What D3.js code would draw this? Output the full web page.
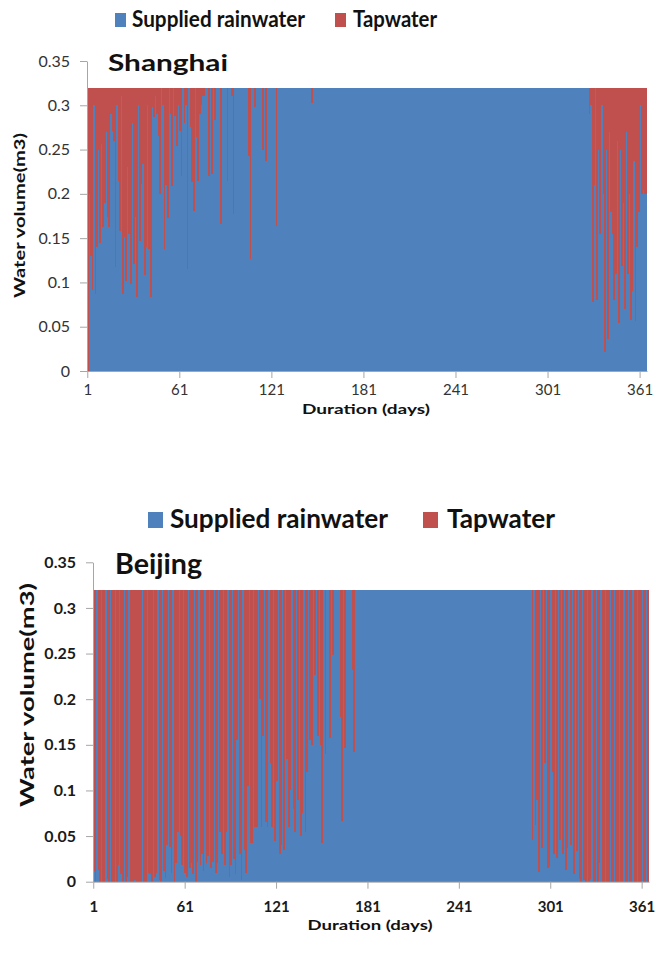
<!DOCTYPE html>
<html><head><meta charset="utf-8">
<script src="https://cdn.jsdelivr.net/npm/d3@7"></script>
<style>body{margin:0;background:#fff}svg{display:block}text{font-family:Lato,"Open Sans",sans-serif}</style>
</head><body><svg id="c" width="656" height="953"></svg>
<script>
// ---------- data ----------
const seriesNames = ["Supplied rainwater", "Tapwater"];
const seriesColors = ["#4F81BD", "#C0504D"];
const yTicks = [0, 0.05, 0.1, 0.15, 0.2, 0.25, 0.3, 0.35];
const yTickLabels = ["0", "0.05", "0.1", "0.15", "0.2", "0.25", "0.3", "0.35"];
const xTickDays = [1, 61, 121, 181, 241, 301, 361];
const xTickLabels = ["1", "61", "121", "181", "241", "301", "361"];
const cityNames = ["Shanghai", "Beijing"];
const xTitle = "Duration (days)";
const yTitle = "Water volume(m3)";

const shanghaiRain = [
0,0.2,0.13,0.092,0.3,0.087,0.14,0.25,0.145,0.256,
0.163,0.19,0.27,0.174,0.163,0.29,0.271,0.26,0.117,0.3,
0.215,0.158,0.31,0.087,0.151,0.102,0.23,0.155,0.098,0.28,
0.121,0.174,0.083,0.3,0.147,0.211,0.234,0.108,0.14,0.3,
0.138,0.083,0.298,0.287,0.31,0.29,0.265,0.2,0.32,0.3,
0.138,0.21,0.173,0.32,0.29,0.209,0.32,0.288,0.254,0.3,
0.271,0.22,0.32,0.28,0.3,0.115,0.32,0.276,0.213,0.181,
0.32,0.264,0.215,0.29,0.3,0.31,0.31,0.32,0.32,0.22,
0.32,0.222,0.32,0.283,0.32,0.32,0.32,0.166,0.32,0.32,
0.32,0.215,0.32,0.32,0.31,0.177,0.32,0.32,0.32,0.32,
0.32,0.32,0.32,0.32,0.32,0.243,0.126,0.32,0.32,0.298,
0.32,0.32,0.32,0.32,0.249,0.32,0.237,0.32,0.32,0.32,
0.32,0.32,0.32,0.164,0.32,0.32,0.32,0.32,0.32,0.32,
0.32,0.32,0.32,0.32,0.32,0.32,0.32,0.32,0.32,0.32,
0.32,0.32,0.32,0.32,0.32,0.32,0.303,0.32,0.32,0.32,
0.32,0.32,0.32,0.32,0.32,0.32,0.32,0.32,0.32,0.32,
0.32,0.32,0.32,0.32,0.32,0.32,0.32,0.32,0.32,0.32,
0.32,0.32,0.32,0.32,0.32,0.32,0.32,0.32,0.32,0.32,
0.32,0.32,0.32,0.32,0.32,0.32,0.32,0.32,0.32,0.32,
0.32,0.32,0.32,0.32,0.32,0.32,0.32,0.32,0.32,0.32,
0.32,0.32,0.32,0.32,0.32,0.32,0.32,0.32,0.32,0.32,
0.32,0.32,0.32,0.32,0.32,0.32,0.32,0.32,0.32,0.32,
0.32,0.32,0.32,0.32,0.32,0.32,0.32,0.32,0.32,0.32,
0.32,0.32,0.32,0.32,0.32,0.32,0.32,0.32,0.32,0.32,
0.32,0.32,0.32,0.32,0.32,0.32,0.32,0.32,0.32,0.32,
0.32,0.32,0.32,0.32,0.32,0.32,0.32,0.32,0.32,0.32,
0.32,0.32,0.32,0.32,0.32,0.32,0.32,0.32,0.32,0.32,
0.32,0.32,0.32,0.32,0.32,0.32,0.32,0.32,0.32,0.32,
0.32,0.32,0.32,0.32,0.32,0.32,0.32,0.32,0.32,0.32,
0.32,0.32,0.32,0.32,0.32,0.32,0.32,0.32,0.32,0.32,
0.32,0.32,0.32,0.32,0.32,0.32,0.32,0.32,0.32,0.32,
0.32,0.32,0.32,0.32,0.32,0.32,0.32,0.32,0.32,0.32,
0.32,0.32,0.32,0.32,0.32,0.32,0.32,0.29,0.3,0.078,
0.21,0.32,0.08,0.25,0.155,0.3,0.2,0.021,0.25,0.036,
0.27,0.18,0.155,0.08,0.11,0.26,0.054,0.25,0.119,0.19,
0.07,0.27,0.11,0.2,0.058,0.09,0.237,0.057,0.14,0.18,
0.3,0.2,0.204,0.2,0.2];

const shanghaiTap = [
0.32,0.12,0.19,0.228,0.02,0.233,0.18,0.07,0.175,0.064,
0.157,0.13,0.05,0.146,0.157,0.03,0.049,0.06,0.203,0.02,
0.105,0.162,0.01,0.233,0.169,0.218,0.09,0.165,0.222,0.04,
0.199,0.146,0.237,0.02,0.173,0.109,0.086,0.212,0.18,0.02,
0.182,0.237,0.022,0.033,0.01,0.03,0.055,0.12,0,0.02,
0.182,0.11,0.147,0,0.03,0.111,0,0.032,0.066,0.02,
0.049,0.1,0,0.04,0.02,0.205,0,0.044,0.107,0.139,
0,0.056,0.105,0.03,0.02,0.01,0.01,0,0,0.1,
0,0.098,0,0.037,0,0,0,0.154,0,0,
0,0.105,0,0,0.01,0.143,0,0,0,0,
0,0,0,0,0,0.077,0.194,0,0,0.022,
0,0,0,0,0.071,0,0.083,0,0,0,
0,0,0,0.156,0,0,0,0,0,0,
0,0,0,0,0,0,0,0,0,0,
0,0,0,0,0,0,0.017,0,0,0,
0,0,0,0,0,0,0,0,0,0,
0,0,0,0,0,0,0,0,0,0,
0,0,0,0,0,0,0,0,0,0,
0,0,0,0,0,0,0,0,0,0,
0,0,0,0,0,0,0,0,0,0,
0,0,0,0,0,0,0,0,0,0,
0,0,0,0,0,0,0,0,0,0,
0,0,0,0,0,0,0,0,0,0,
0,0,0,0,0,0,0,0,0,0,
0,0,0,0,0,0,0,0,0,0,
0,0,0,0,0,0,0,0,0,0,
0,0,0,0,0,0,0,0,0,0,
0,0,0,0,0,0,0,0,0,0,
0,0,0,0,0,0,0,0,0,0,
0,0,0,0,0,0,0,0,0,0,
0,0,0,0,0,0,0,0,0,0,
0,0,0,0,0,0,0,0,0,0,
0,0,0,0,0,0,0,0.03,0.02,0.242,
0.11,0,0.24,0.07,0.165,0.02,0.12,0.299,0.07,0.284,
0.05,0.14,0.165,0.24,0.21,0.06,0.266,0.07,0.201,0.13,
0.25,0.05,0.21,0.12,0.262,0.23,0.083,0.263,0.18,0.14,
0.02,0.12,0.116,0.12,0.12];

const beijingRain = [
0.012,0,0.32,0.013,0,0.32,0,0,0.32,0.003,
0,0.32,0,0,0.32,0,0.018,0.32,0.008,0,
0.32,0,0.005,0.32,0,0,0,0.002,0,0,
0,0,0.32,0,0,0.32,0.01,0.008,0,0.32,
0.005,0.01,0.32,0.002,0,0.32,0.012,0.004,0.04,0.32,
0.038,0.01,0.32,0,0.02,0.055,0.32,0.05,0.018,0.32,
0.01,0.005,0.32,0.015,0.02,0.008,0.32,0,0.022,0.32,
0.018,0.03,0.012,0.32,0.02,0.028,0.32,0.015,0.022,0.32,
0.01,0.02,0.32,0.055,0.03,0.32,0.018,0.055,0.32,0.005,
0.018,0.32,0.025,0.008,0.155,0.32,0.03,0.002,0.32,0.035,
0.01,0.105,0.32,0.042,0.042,0.32,0.06,0.06,0.32,0.2,
0.06,0.16,0.32,0.065,0.06,0.32,0.13,0.06,0.32,0.045,
0.11,0.32,0.03,0.04,0.32,0.035,0.32,0.135,0.06,0.1,
0.32,0.08,0.055,0.32,0.09,0.32,0.05,0.075,0.32,0.055,
0.12,0.32,0.155,0.15,0.32,0.226,0.32,0.16,0.32,0.15,
0.042,0.32,0.14,0.32,0.32,0.157,0.32,0.248,0.32,0.32,
0.32,0.32,0.18,0.067,0.32,0.146,0.32,0.32,0.32,0.32,
0.232,0.142,0.32,0.32,0.32,0.32,0.32,0.32,0.32,0.32,
0.32,0.32,0.32,0.32,0.32,0.32,0.32,0.32,0.32,0.32,
0.32,0.32,0.32,0.32,0.32,0.32,0.32,0.32,0.32,0.32,
0.32,0.32,0.32,0.32,0.32,0.32,0.32,0.32,0.32,0.32,
0.32,0.32,0.32,0.32,0.32,0.32,0.32,0.32,0.32,0.32,
0.32,0.32,0.32,0.32,0.32,0.32,0.32,0.32,0.32,0.32,
0.32,0.32,0.32,0.32,0.32,0.32,0.32,0.32,0.32,0.32,
0.32,0.32,0.32,0.32,0.32,0.32,0.32,0.32,0.32,0.32,
0.32,0.32,0.32,0.32,0.32,0.32,0.32,0.32,0.32,0.32,
0.32,0.32,0.32,0.32,0.32,0.32,0.32,0.32,0.32,0.32,
0.32,0.32,0.32,0.32,0.32,0.32,0.32,0.32,0.32,0.32,
0.32,0.32,0.32,0.32,0.32,0.32,0.32,0.32,0.046,0.32,
0.062,0.09,0.011,0.32,0.037,0.32,0.13,0.32,0.015,0.016,
0.32,0.12,0.03,0.32,0.026,0.32,0.046,0.32,0.03,0.32,
0.013,0.037,0.32,0.04,0.32,0.008,0.32,0.034,0.32,0.003,
0,0.32,0.002,0,0.32,0,0.003,0.32,0,0,
0.32,0,0.02,0.32,0,0,0.32,0,0,0.32,
0,0,0.32,0,0,0.32,0,0,0.32,0,
0,0.32,0,0,0.32,0,0,0.32,0,0,
0.32,0,0,0.32,0];

const beijingTap = [
0.308,0.32,0,0.307,0.32,0,0.32,0.32,0,0.317,
0.32,0,0.32,0.32,0,0.32,0.302,0,0.312,0.32,
0,0.32,0.315,0,0.32,0.32,0.32,0.318,0.32,0.32,
0.32,0.32,0,0.32,0.32,0,0.31,0.312,0.32,0,
0.315,0.31,0,0.318,0.32,0,0.308,0.316,0.28,0,
0.282,0.31,0,0.32,0.3,0.265,0,0.27,0.302,0,
0.31,0.315,0,0.305,0.3,0.312,0,0.32,0.298,0,
0.302,0.29,0.308,0,0.3,0.292,0,0.305,0.298,0,
0.31,0.3,0,0.265,0.29,0,0.302,0.265,0,0.315,
0.302,0,0.295,0.312,0.165,0,0.29,0.318,0,0.285,
0.31,0.215,0,0.278,0.278,0,0.26,0.26,0,0.12,
0.26,0.16,0,0.255,0.26,0,0.19,0.26,0,0.275,
0.21,0,0.29,0.28,0,0.285,0,0.185,0.26,0.22,
0,0.24,0.265,0,0.23,0,0.27,0.245,0,0.265,
0.2,0,0.165,0.17,0,0.094,0,0.16,0,0.17,
0.278,0,0.18,0,0,0.163,0,0.072,0,0,
0,0,0.14,0.253,0,0.174,0,0,0,0,
0.088,0.178,0,0,0,0,0,0,0,0,
0,0,0,0,0,0,0,0,0,0,
0,0,0,0,0,0,0,0,0,0,
0,0,0,0,0,0,0,0,0,0,
0,0,0,0,0,0,0,0,0,0,
0,0,0,0,0,0,0,0,0,0,
0,0,0,0,0,0,0,0,0,0,
0,0,0,0,0,0,0,0,0,0,
0,0,0,0,0,0,0,0,0,0,
0,0,0,0,0,0,0,0,0,0,
0,0,0,0,0,0,0,0,0,0,
0,0,0,0,0,0,0,0,0.274,0,
0.258,0.23,0.309,0,0.283,0,0.19,0,0.305,0.304,
0,0.2,0.29,0,0.294,0,0.274,0,0.29,0,
0.307,0.283,0,0.28,0,0.312,0,0.286,0,0.317,
0.32,0,0.318,0.32,0,0.32,0.317,0,0.32,0.32,
0,0.32,0.3,0,0.32,0.32,0,0.32,0.32,0,
0.32,0.32,0,0.32,0.32,0,0.32,0.32,0,0.32,
0.32,0,0.32,0.32,0,0.32,0.32,0,0.32,0.32,
0,0.32,0.32,0,0.32];

// ---------- drawing ----------
const svg = d3.select("#c");
const days = d3.range(1, shanghaiRain.length + 1);

const panels = [
  { name: cityNames[0], rain: shanghaiRain, tap: shanghaiTap,
    x0: 87, x1: 647, yBot: 371, yTop: 61, bold: false, tickFont: 15,
    legendY: 13, legendSq: 11, legendH: 14, legendFont: 22, legBlueX: 115, legTxt1: [132, 173], legRedX: 335, legTxt2: [353, 84], legBase: 27,
    titleX: 108, titleBase: 71, titleFont: 23, titleLen: 120,
    yTitleX: 25, yTitleY: 215.5, yTitleLen: 165, yTitleFont: 16,
    xTitleY: 414, xTitleLen: 128, xTitleFont: 14, xLabelDy: 24 },
  { name: cityNames[1], rain: beijingRain, tap: beijingTap,
    x0: 93, x1: 649, yBot: 881.7, yTop: 562.3, bold: true, tickFont: 15,
    legendY: 512, legendSq: 15, legendH: 16, legendFont: 27, legBlueX: 148, legTxt1: [170, 218], legRedX: 423, legTxt2: [447, 108], legBase: 528,
    titleX: 115, titleBase: 574, titleFont: 28, titleLen: 87,
    yTitleX: 34, yTitleY: 695, yTitleLen: 224, yTitleFont: 18,
    xTitleY: 930, xTitleLen: 125, xTitleFont: 14, xLabelDy: 30 }
];

panels.forEach(p => {
  const g = svg.append("g");
  const x = d3.scaleBand().domain(days).range([p.x0, p.x1]).paddingInner(0).paddingOuter(0);
  const y = d3.scaleLinear().domain([0, 0.35]).range([p.yBot, p.yTop]);
  const table = days.map((d, i) => ({ day: d, rain: p.rain[i], tap: p.tap[i] }));
  const stacked = d3.stack().keys(["rain", "tap"])(table);

  // bars
  stacked.forEach((layer, li) => {
    g.append("g").attr("fill", seriesColors[li]).attr("shape-rendering", "crispEdges")
      .selectAll("rect").data(layer).join("rect")
      .attr("x", d => x(d.data.day))
      .attr("width", x.bandwidth() + 0.2)
      .attr("y", d => y(d[1]))
      .attr("height", d => Math.max(0, y(d[0]) - y(d[1])));
  });

  // axes
  const axisColor = "#a6a6a6";
  const textColor = p.bold ? "#1a1a1a" : "#333";
  const yAxis = g.append("g").attr("transform", `translate(${p.x0},0)`)
    .call(d3.axisLeft(y).tickValues(yTicks).tickFormat((d, i) => yTickLabels[i]).tickSize(7).tickSizeOuter(0).tickPadding(10));
  const xAxis = g.append("g").attr("transform", `translate(0,${p.yBot})`)
    .call(d3.axisBottom(x).tickValues(xTickDays).tickFormat((d, i) => xTickLabels[i]).tickSize(7).tickSizeOuter(0).tickPadding(8));
  [yAxis, xAxis].forEach(a => {
    a.select(".domain").attr("stroke", axisColor);
    a.selectAll(".tick line").attr("stroke", axisColor);
    a.selectAll(".tick text").attr("fill", textColor)
      .style("font-family", "Lato, 'Open Sans', sans-serif")
      .style("font-size", (p.tickFont + 1) + "px")
      .style("font-weight", p.bold ? "700" : "400");
  });
  xAxis.selectAll(".tick text").attr("dy", null).attr("y", p.xLabelDy).style("font-size", p.tickFont + "px");

  // legend
  const lg = g.append("g");
  lg.append("rect").attr("x", p.legBlueX).attr("y", p.legendY).attr("width", p.legendSq).attr("height", p.legendH).attr("fill", seriesColors[0]);
  lg.append("text").attr("x", p.legTxt1[0]).attr("y", p.legBase).text(seriesNames[0])
    .attr("textLength", p.legTxt1[1]).attr("lengthAdjust", "spacingAndGlyphs")
    .style("font-size", p.legendFont + "px").style("font-weight", 700).attr("fill", "#111");
  lg.append("rect").attr("x", p.legRedX).attr("y", p.legendY).attr("width", p.legendSq).attr("height", p.legendH).attr("fill", seriesColors[1]);
  lg.append("text").attr("x", p.legTxt2[0]).attr("y", p.legBase).text(seriesNames[1])
    .attr("textLength", p.legTxt2[1]).attr("lengthAdjust", "spacingAndGlyphs")
    .style("font-size", p.legendFont + "px").style("font-weight", 700).attr("fill", "#111");

  // city title
  g.append("text").attr("x", p.titleX).attr("y", p.titleBase).text(p.name)
    .attr("textLength", p.titleLen).attr("lengthAdjust", "spacingAndGlyphs")
    .style("font-size", p.titleFont + "px").style("font-weight", 700).attr("fill", "#111");

  // axis titles
  g.append("text").attr("transform", `translate(${p.yTitleX},${p.yTitleY}) rotate(-90)`)
    .attr("text-anchor", "middle").text(yTitle)
    .attr("textLength", p.yTitleLen).attr("lengthAdjust", "spacingAndGlyphs")
    .style("font-size", p.yTitleFont + "px").style("font-weight", 700).attr("fill", "#111");
  g.append("text").attr("x", (p.x0 + p.x1) / 2 - 1).attr("y", p.xTitleY)
    .attr("text-anchor", "middle").text(xTitle)
    .attr("textLength", p.xTitleLen).attr("lengthAdjust", "spacingAndGlyphs")
    .style("font-size", p.xTitleFont + "px").style("font-weight", 700).attr("fill", "#111");
});
</script>
</body></html>
